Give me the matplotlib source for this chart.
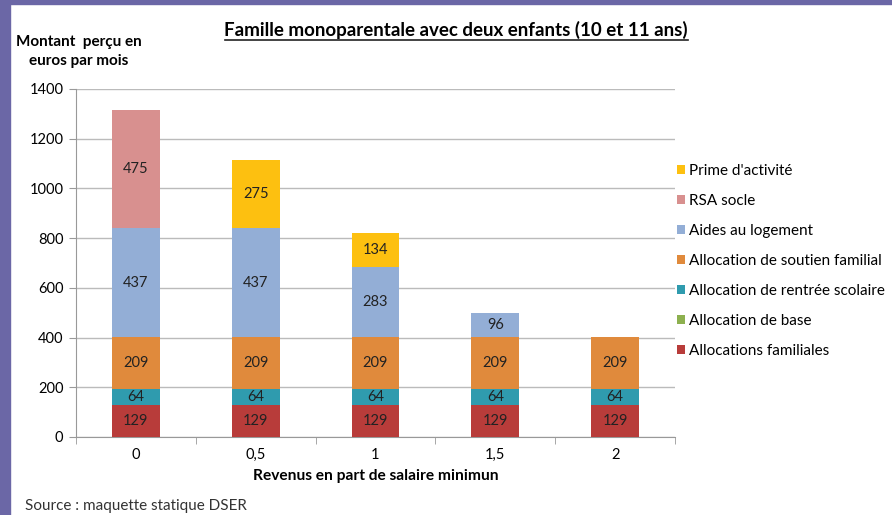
import numpy as np
import matplotlib.pyplot as plt
from matplotlib.patches import Rectangle

categories = ["0", "0,5", "1", "1,5", "2"]
series_names = ["Allocations familiales", "Allocation de base",
                "Allocation de rentrée scolaire", "Allocation de soutien familial",
                "Aides au logement", "RSA socle", "Prime d'activité"]
alloc_fam = [129, 129, 129, 129, 129]
alloc_base = [0, 0, 0, 0, 0]
rentree = [64, 64, 64, 64, 64]
soutien = [209, 209, 209, 209, 209]
logement = [437, 437, 283, 96, 0]
rsa = [475, 0, 0, 0, 0]
prime = [0, 275, 134, 0, 0]
colors = ["#B83C3A", "#8DB04F", "#2F9BAE", "#E08A3C", "#93AED6", "#D8908F", "#FDC010"]

plt.rcParams['font.family'] = ['Lato', 'DejaVu Sans']

fig = plt.figure(figsize=(8.92, 5.15), dpi=100)
ax = fig.add_axes([0.0852, 0.1515, 0.6715, 0.6757])

x = np.arange(len(categories))
bottom = np.zeros(len(categories))
handles = []
for name, vals, col in zip(series_names,
                           [alloc_fam, alloc_base, rentree, soutien, logement, rsa, prime],
                           colors):
    vals = np.array(vals, dtype=float)
    bars = ax.bar(x, vals, 0.4, bottom=bottom, color=col, label=name, zorder=3)
    handles.append(bars)
    for xi, b, v in zip(x, bottom, vals):
        if v > 0:
            ax.text(xi, b + v / 2, str(int(v)), ha="center", va="center",
                    fontsize=10.5, color="#222222", zorder=4)
    bottom += vals

ax.set_xlim(-0.5, len(categories) - 0.5)
ax.set_ylim(0, 1400)
ax.set_yticks(range(0, 1401, 200))
ax.set_xticks(x)
ax.set_xticklabels(categories)
ax.set_xticks(np.arange(-0.5, len(categories), 1), minor=True)
ax.tick_params(axis="x", which="major", length=0, labelsize=10.5, pad=8)
ax.tick_params(axis="x", which="minor", length=5, color="#999999")
ax.tick_params(axis="y", length=5, color="#999999", labelsize=10.5, pad=4)
ax.grid(axis="y", color="#BBBBBB", linewidth=1, zorder=0)
for s in ["top", "right"]:
    ax.spines[s].set_visible(False)
ax.spines["left"].set_color("#999999")
ax.spines["bottom"].set_color("#999999")

ax.set_xlabel("Revenus en part de salaire minimun", fontsize=11.2,
              fontweight="bold", labelpad=5)

leg = ax.legend(handles=handles[::-1], loc="center left", bbox_to_anchor=(1.0, 0.506),
                frameon=False, fontsize=11, handlelength=0.55, handleheight=0.55,
                handletextpad=0.25, labelspacing=1.05, borderaxespad=0, borderpad=0.1)

fig.text(0.511, 0.942, "Famille monoparentale avec deux enfants (10 et 11 ans)",
         ha="center", va="center", fontsize=13.5, fontweight="bold")
fig.add_artist(plt.Line2D([0.252, 0.771], [0.922, 0.922], color="#222222", linewidth=1.2))
fig.text(0.088, 0.9, "Montant  perçu en\neuros par mois", ha="center", va="center",
         fontsize=11, fontweight="bold", linespacing=1.4)
fig.text(0.028, 0.018, "Source : maquette statique DSER", ha="left", va="center",
         fontsize=11, color="#333333")

# slide border
fig.add_artist(Rectangle((0, 0), 10 / 892, 1, transform=fig.transFigure,
                         color="#6B67A6", zorder=10))
fig.add_artist(Rectangle((0, 1 - 4 / 515), 1, 4 / 515, transform=fig.transFigure,
                         color="#6B67A6", zorder=10))

fig.savefig("out.png", dpi=100)
